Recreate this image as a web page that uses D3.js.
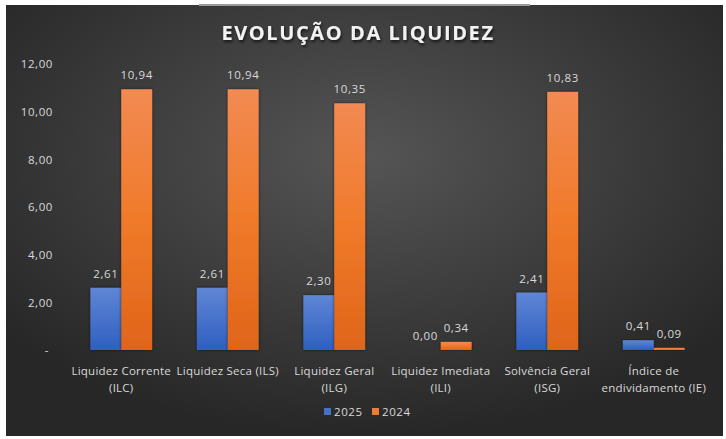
<!DOCTYPE html>
<html>
<head>
<meta charset="utf-8">
<script src="https://cdn.jsdelivr.net/npm/d3@7"></script>
<style>
  body { margin: 0; background: #fff; }
  svg { display: block; }
</style>
</head>
<body>
<script>
// chart data
var categories = ["Liquidez Corrente (ILC)", "Liquidez Seca (ILS)", "Liquidez Geral (ILG)",
                  "Liquidez Imediata (ILI)", "Solvência Geral (ISG)", "Índice de endividamento (IE)"];
var categoryLines = [["Liquidez Corrente", "(ILC)"], ["Liquidez Seca (ILS)"], ["Liquidez Geral", "(ILG)"],
                     ["Liquidez Imediata", "(ILI)"], ["Solvência Geral", "(ISG)"], ["Índice de", "endividamento (IE)"]];
var series = ["2025", "2024"];
var values2025 = [2.61, 2.61, 2.30, 0.00, 2.41, 0.41];
var values2024 = [10.94, 10.94, 10.35, 0.34, 10.83, 0.09];
var yTicks = [0, 2, 4, 6, 8, 10, 12];

var W = 726, H = 439;
var margin = {top: 64, right: 19, bottom: 89, left: 68};

var svg = d3.select("body").append("svg")
    .attr("width", W)
    .attr("height", H);

var defs = svg.append("defs");

// background gradient
var bg = defs.append("radialGradient").attr("id", "bg")
    .attr("cx", "50%").attr("cy", "35%").attr("r", "65%");
bg.append("stop").attr("offset", "0%").attr("stop-color", "#555555");
bg.append("stop").attr("offset", "100%").attr("stop-color", "#272727");

var gBlue = defs.append("linearGradient").attr("id", "gBlue")
    .attr("x1", 0).attr("y1", 0).attr("x2", 0).attr("y2", 1);
gBlue.append("stop").attr("offset", "0%").attr("stop-color", "#5f86d6");
gBlue.append("stop").attr("offset", "100%").attr("stop-color", "#2f5fbf");

var gOrange = defs.append("linearGradient").attr("id", "gOrange")
    .attr("x1", 0).attr("y1", 0).attr("x2", 0).attr("y2", 1);
gOrange.append("stop").attr("offset", "0%").attr("stop-color", "#f28a52");
gOrange.append("stop").attr("offset", "50%").attr("stop-color", "#f07a2a");
gOrange.append("stop").attr("offset", "100%").attr("stop-color", "#df6519");

var shadow = defs.append("filter").attr("id", "shadow")
    .attr("x", "-20%").attr("y", "-20%").attr("width", "140%").attr("height", "140%");
shadow.append("feDropShadow").attr("dx", 1).attr("dy", 2).attr("stdDeviation", 1.5)
    .attr("flood-color", "#000").attr("flood-opacity", 0.7);

var barShadow = defs.append("filter").attr("id", "barShadow")
    .attr("x", "-20%").attr("y", "-5%").attr("width", "140%").attr("height", "110%");
barShadow.append("feDropShadow").attr("dx", 0).attr("dy", 0).attr("stdDeviation", 1.5)
    .attr("flood-color", "#000").attr("flood-opacity", 0.6);

// chart area
svg.append("rect")
    .attr("x", 6).attr("y", 5)
    .attr("width", 717).attr("height", 431)
    .attr("fill", "url(#bg)");

svg.append("rect")
    .attr("x", 199).attr("y", 4)
    .attr("width", 331).attr("height", 2)
    .attr("fill", "#9a9a9a");

// title
svg.append("text")
    .attr("x", 358).attr("y", 40)
    .attr("text-anchor", "middle")
    .attr("font-family", "Open Sans")
    .attr("font-weight", "bold")
    .attr("font-size", 20)
    .attr("letter-spacing", 1.6)
    .attr("fill", "#f2f2f2")
    .attr("filter", "url(#shadow)")
    .text("EVOLUÇÃO DA LIQUIDEZ");

var x0 = d3.scaleBand()
    .domain(categories)
    .range([margin.left, W - margin.right])
    .paddingInner(0.42)
    .paddingOuter(0.21);

var x1 = d3.scaleBand()
    .domain(series)
    .range([0, x0.bandwidth()]);

var y = d3.scaleLinear()
    .domain([0, 12])
    .range([H - margin.bottom, margin.top]);

var fmt = function(v) { return d3.format(".2f")(v).replace(".", ","); };

var txt = function(sel) {
  sel.attr("font-family", "Open Sans")
     .attr("font-size", 11.5)
     .attr("letter-spacing", 0.6)
     .attr("fill", "#d9d9d9");
};

// y axis
var yAxis = d3.axisLeft(y)
    .tickValues(yTicks)
    .tickSize(0)
    .tickPadding(0)
    .tickFormat(function(d) { return d === 0 ? "-" : fmt(d); });

svg.append("g")
    .attr("transform", "translate(53,0)")
    .call(yAxis)
    .call(function(g) { g.select(".domain").remove(); })
    .call(function(g) {
      g.selectAll("text")
        .call(txt)
        .attr("dx", function(d) { return d === 0 ? -4 : 0; });
    });

// bars
var rows = categories.map(function(c, i) {
  return {cat: c, vals: [{s: "2025", v: values2025[i]}, {s: "2024", v: values2024[i]}]};
});

var groups = svg.append("g").selectAll("g")
    .data(rows)
    .join("g")
    .attr("transform", function(d) { return "translate(" + x0(d.cat) + ",0)"; });

groups.selectAll("rect")
    .data(function(d) { return d.vals; })
    .join("rect")
    .attr("x", function(d) { return x1(d.s); })
    .attr("width", x1.bandwidth())
    .attr("y", function(d) { return y(d.v); })
    .attr("height", function(d) { return y(0) - y(d.v); })
    .attr("fill", function(d) { return d.s === "2025" ? "url(#gBlue)" : "url(#gOrange)"; })
    .attr("filter", "url(#barShadow)");

groups.selectAll("text.val")
    .data(function(d) { return d.vals; })
    .join("text")
    .attr("class", "val")
    .attr("x", function(d) { return x1(d.s) + x1.bandwidth() / 2; })
    .attr("y", function(d) { return y(d.v) - 10; })
    .attr("text-anchor", "middle")
    .call(txt)
    .text(function(d) { return fmt(d.v); });

// category labels
var xl = svg.append("g").selectAll("text")
    .data(categories)
    .join("text")
    .attr("x", function(d) { return x0(d) + x0.bandwidth() / 2; })
    .attr("y", 375)
    .attr("text-anchor", "middle")
    .call(txt)
    .attr("letter-spacing", 0.25);

xl.selectAll("tspan")
    .data(function(d, i) { return categoryLines[i]; })
    .join("tspan")
    .attr("x", function() { var p = d3.select(this.parentNode).datum(); return x0(p) + x0.bandwidth() / 2; })
    .attr("dy", function(d, i) { return i === 0 ? 0 : 17; })
    .text(function(d) { return d; });

// legend
var legend = svg.append("g").attr("transform", "translate(324,408)");
var lx = [0, 48];
series.forEach(function(s, i) {
  legend.append("rect")
    .attr("x", lx[i]).attr("y", 0)
    .attr("width", 7).attr("height", 7)
    .attr("fill", s === "2025" ? "#4472c4" : "#ed7d31");
  legend.append("text")
    .attr("x", lx[i] + 10).attr("y", 8)
    .call(txt)
    .text(s);
});
</script>
</body>
</html>
